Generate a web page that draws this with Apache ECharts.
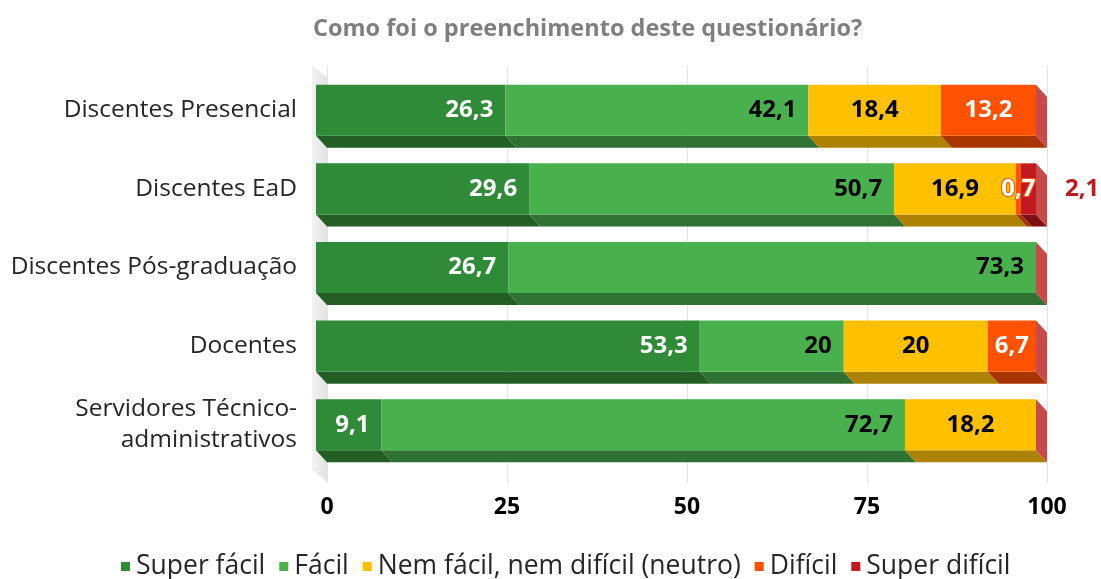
<!DOCTYPE html>
<html>
<head>
<meta charset="utf-8">
<script src="https://cdn.jsdelivr.net/npm/echarts@6/dist/echarts.min.js"></script>
<style>html,body{margin:0;padding:0;background:#fff;}#c{width:1101px;height:579px;}</style>
</head>
<body>
<div id="c"></div>
<script>
const titleText = 'Como foi o preenchimento deste questionário?';
const categories = ['Discentes Presencial', 'Discentes EaD', 'Discentes Pós-graduação', 'Docentes', 'Servidores Técnico-\nadministrativos'];
const seriesNames = ['Super fácil', 'Fácil', 'Nem fácil, nem difícil (neutro)', 'Difícil', 'Super difícil'];
const superFacil = [26.3, 29.6, 26.7, 53.3, 9.1];
const facil = [42.1, 50.7, 73.3, 20, 72.7];
const neutro = [18.4, 16.9, 0, 20, 18.2];
const dificil = [13.2, 0.7, 0, 6.7, 0];
const superDificil = [0, 2.1, 0, 0, 0];
const xTicks = [0, 25, 50, 75, 100];

const values = [superFacil, facil, neutro, dificil, superDificil];
const colors = ['#2F8B37', '#48B04C', '#FFC000', '#FF5200', '#C0191F'];
const bottomColors = ['#235F25', '#2F7233', '#AD8200', '#A83500', '#7E1012'];
const sideColor = '#C94A4B';
const labelCfg = [
  { pos: 'insideRight', color: '#FFFFFF' },
  { pos: 'insideRight', color: '#000000' },
  { pos: 'center', color: '#000000' },
  { pos: 'center', color: '#FFFFFF', stroke: '#FF5200' },
  { pos: 'right', color: '#C0191F' }
];
const DX = 11, DY = 12;
const FONT = 'Open Sans, Noto Sans, sans-serif';

function fmt(v) { return String(v).replace('.', ','); }

const cum = categories.map(() => 0);
const seriesList = [];

// left wall
seriesList.push({
  type: 'custom', xAxisIndex: 1, yAxisIndex: 1, silent: true, z: 1,
  data: [[0, 0]],
  renderItem: function (params, api) {
    const cs = params.coordSys;
    return {
      type: 'polygon', z2: 0,
      shape: { points: [[cs.x - 4, cs.y - 6], [cs.x + DX, cs.y - 6 + DY], [cs.x + DX, cs.y + cs.height + DY + 6], [cs.x - 4, cs.y + cs.height + 6]] },
      style: { fill: new echarts.graphic.LinearGradient(0, 0, 1, 0, [{ offset: 0, color: '#F2F2F2' }, { offset: 1, color: '#E3E3E3' }]) }
    };
  }
});

values.forEach((arr, s) => {
  const data = arr.map((v, i) => {
    const start = cum[i];
    cum[i] += v;
    return [start, cum[i], i, v];
  });
  const cfg = labelCfg[s];
  seriesList.push({
    name: seriesNames[s],
    type: 'custom',
    xAxisIndex: 1, yAxisIndex: 1,
    itemStyle: { color: colors[s] },
    encode: { x: [0, 1], y: 2 },
    data: data,
    renderItem: function (params, api) {
      const v = api.value(3);
      if (!(v > 0)) return null;
      const p0 = api.coord([api.value(0), api.value(2)]);
      const p1 = api.coord([api.value(1), api.value(2)]);
      const h = api.size([0, 1])[1] * 0.65;
      const x0 = p0[0], x1 = p1[0], yt = p0[1] - h / 2, yb = p0[1] + h / 2;
      let tx, align;
      if (cfg.pos === 'insideRight') { tx = x1 - 12; align = 'right'; }
      else if (cfg.pos === 'center') { tx = (x0 + x1) / 2; align = 'center'; }
      else { tx = x1 + 29; align = 'left'; }
      const textStyle = {
        text: fmt(v), x: tx, y: p0[1], align: align, verticalAlign: 'middle',
        fill: cfg.color, font: 'bold 24px ' + FONT
      };
      if (cfg.stroke) { textStyle.stroke = cfg.stroke; textStyle.lineWidth = 2; }
      return {
        type: 'group',
        children: [
          { type: 'polygon', z2: 1, shape: { points: [[x0, yb], [x1, yb], [x1 + DX, yb + DY], [x0 + DX, yb + DY]] }, style: { fill: bottomColors[s] } },
          { type: 'rect', z2: 2, shape: { x: x0, y: yt, width: x1 - x0, height: h }, style: { fill: colors[s] } },
          { type: 'text', z2: 50, style: textStyle }
        ]
      };
    }
  });
});

// right side faces
seriesList.push({
  type: 'custom', xAxisIndex: 1, yAxisIndex: 1, silent: true,
  data: cum.map((t, i) => [t, i]),
  renderItem: function (params, api) {
    const p = api.coord([api.value(0), api.value(1)]);
    const h = api.size([0, 1])[1] * 0.65;
    const x1 = p[0], yt = p[1] - h / 2, yb = p[1] + h / 2;
    return {
      type: 'polygon', z2: 3,
      shape: { points: [[x1, yt], [x1 + DX, yt + DY], [x1 + DX, yb + DY], [x1, yb]] },
      style: { fill: sideColor }
    };
  }
});

const chart = echarts.init(document.getElementById('c'));
chart.setOption({
  animation: false,
  backgroundColor: '#FFFFFF',
  title: {
    text: titleText, left: 308, top: 12,
    textStyle: { fontFamily: FONT, fontSize: 23.5, fontWeight: 'bold', color: '#7F7F7F' }
  },
  legend: {
    data: seriesNames, left: 116, top: 548,
    icon: 'rect', itemWidth: 9, itemHeight: 9, itemGap: 14,
    textStyle: { fontFamily: FONT, fontSize: 26.5, color: '#262626', padding: [0, 0, 0, 1] }
  },
  grid: [
    { left: 327, right: 54, top: 66, bottom: 96 },
    { left: 316, width: 720, top: 71, height: 393 }
  ],
  xAxis: [
    {
      gridIndex: 0, type: 'value', min: xTicks[0], max: xTicks[xTicks.length - 1], interval: xTicks[1] - xTicks[0],
      axisLine: { show: false }, axisTick: { show: false },
      splitLine: { show: true, lineStyle: { color: '#E3E3E3', width: 1 } },
      axisLabel: { margin: 13, fontFamily: FONT, fontSize: 23, fontWeight: 'bold', color: '#000000' }
    },
    { gridIndex: 1, type: 'value', min: 0, max: 100, show: false }
  ],
  yAxis: [
    { gridIndex: 0, type: 'category', data: categories, inverse: true, show: false },
    {
      gridIndex: 1, type: 'category', data: categories, inverse: true,
      axisLine: { show: false }, axisTick: { show: false }, splitLine: { show: false },
      axisLabel: { margin: 19, fontFamily: FONT, fontSize: 24.5, lineHeight: 31, color: '#262626', align: 'right' }
    }
  ],
  series: seriesList
});
</script>
</body>
</html>
